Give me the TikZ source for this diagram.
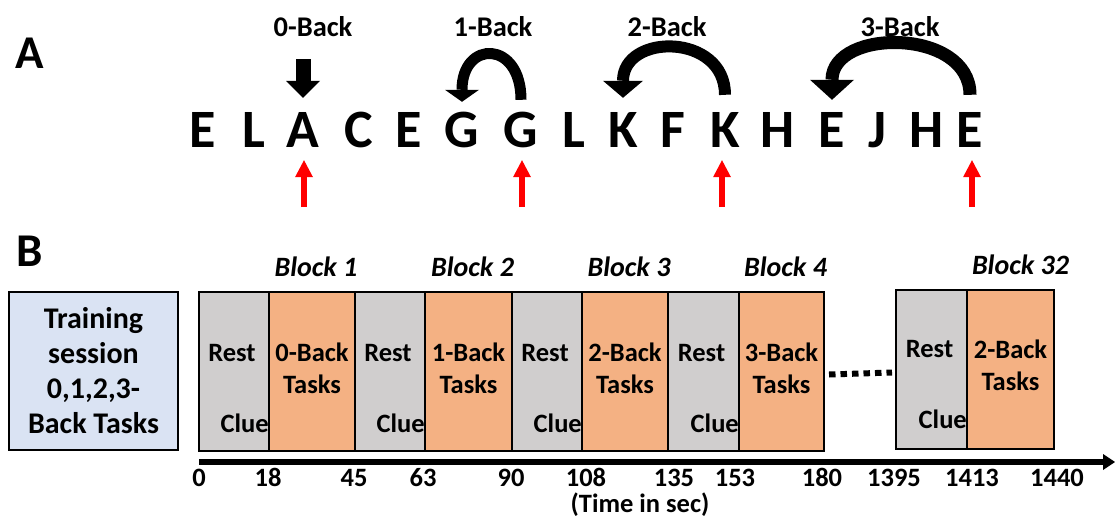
\documentclass[tikz,border=0pt]{standalone}
\usepackage{fontspec}
\setmainfont{Carlito}
\usetikzlibrary{arrows.meta, positioning}
\definecolor{restgray}{HTML}{D0CECE}
\definecolor{taskorange}{HTML}{F4B183}
\definecolor{trainblue}{HTML}{DAE3F3}
\tikzset{
  panel/.style={font=\fontsize{47}{52}\selectfont\bfseries, inner sep=0pt},
  letter/.style={font=\fontsize{54}{60}\selectfont\bfseries, inner sep=0pt,
    text height=34pt, text depth=0pt, anchor=base},
  backlab/.style={font=\fontsize{28.5}{32}\selectfont\bfseries, inner sep=0pt, anchor=base},
  restcell/.style={draw, line width=2pt, fill=restgray, minimum height=159pt,
    anchor=north west, inner sep=0pt},
  taskcell/.style={draw, line width=2pt, fill=taskorange, minimum height=159pt,
    anchor=north west, inner sep=0pt},
  celltxt/.style={font=\fontsize{26.5}{32}\selectfont\bfseries, inner sep=0pt, align=center},
  blocklab/.style={font=\fontsize{28}{32}\selectfont\bfseries\itshape, inner sep=0pt},
  tick/.style={font=\fontsize{26.5}{32}\selectfont\bfseries, inner sep=0pt, anchor=base},
  trainbox/.style={draw, line width=2pt, fill=trainblue, minimum width=169pt,
    minimum height=158pt, align=center, font=\fontsize{30}{35}\selectfont\bfseries},
  downarr/.style={line width=15pt, -{Triangle[width=34pt,length=17pt,line width=0pt]}},
  curvarr/.style={line width=11pt, -{Triangle[width=34pt,length=12pt,line width=0pt]}},
  pointer/.style={red, line width=6pt, -{Triangle[width=18pt,length=17pt,line width=0pt]}},
  axis/.style={line width=6pt, -{Triangle[width=16pt,length=12pt,line width=0pt]}},
  dotline/.style={line width=6pt, dash pattern=on 6.5pt off 5pt}
}

\begin{document}
\begin{tikzpicture}[x=1pt, y=-1pt]
\useasboundingbox (0,0) rectangle (1115,519);

% ---- panel A: letter stream ----
\node[panel] (pa) at (30,53) {A};

\foreach \x/\c [count=\i] in {203/E,254/L,303/A,359/C,409/E,462/G,521/G,574/L,
    623/K,673/F,725/K,778/H,832/E,877/J,927/H,970/E}
  \node[letter] (l\i) at (\x,147) {\c};

\node[backlab] (b0) at (313,37) {0-Back};
\node[backlab] (b1) at (493,37) {1-Back};
\node[backlab] (b2) at (667,37) {2-Back};
\node[backlab] (b3) at (900,37) {3-Back};

\draw[downarr, shorten <=22pt, shorten >=15pt] (l3 |- b0.south) -- (l3.north);
\draw[curvarr, shorten <=13pt, shorten >=11pt]
  (l7.north) .. controls +(0,-73) and +(0,-73) .. (l6.north);
\draw[curvarr, line width=12pt, -{Triangle[width=40pt,length=17pt,line width=0pt]},
  shorten <=18pt, shorten >=15pt]
  (l11.north) .. controls +(0,-80) and +(0,-80) .. (l9.north);
\draw[curvarr, line width=13pt, -{Triangle[width=44pt,length=20pt,line width=0pt]},
  shorten <=18pt, shorten >=13pt]
  (l16.north) .. controls +(0,-85) and +(0,-85) .. (l13.north);

% targets
\foreach \i/\x in {3/304,7/522,11/722,16/972} {
  \coordinate (p\i) at (\x,207);
  \draw[pointer, shorten >=13pt] (p\i) -- (p\i |- l\i.south);
}

% ---- panel B: session timeline ----
\node[panel] (pb) at (30,251) {B};

\node[trainbox] (train) at (93.5,371) {Training\\session\\0,1,2,3-\\Back Tasks};

\foreach \a/\b/\c/\k [count=\i, evaluate=\a as \wr using \b-\a,
    evaluate=\b as \wt using \c-\b] in {198/268/354/0, 354/424/511/1,
    511/581/667/2, 667/738/823/3} {
  \node[restcell, minimum width=\wr pt] (rest\i) at (\a,291) {};
  \node[taskcell, minimum width=\wt pt] (task\i) at (\b,291) {};
  \node[celltxt] (tlab\i) at ([yshift=3pt]task\i.center) {\k-Back\\Tasks};
  \node[celltxt] (rlab\i) at ([xshift=-2pt,yshift=18pt]rest\i.center) {Rest};
  \node[celltxt, anchor=base east] (clue\i) at ([xshift=-1pt,yshift=20pt]rest\i.south east) {Clue};
  \node[blocklab, above=14pt of task\i.north, xshift=4pt] (blk\i) {Block \i};
}

\node[restcell, minimum width=71pt] (rest32) at (895,289) {};
\node[taskcell, minimum width=87pt] (task32) at (966,289) {};
\node[celltxt] (tlab32) at ([yshift=4pt]task32.center) {2-Back\\Tasks};
\node[celltxt] (rlab32) at ([xshift=-2pt,yshift=20pt]rest32.center) {Rest};
\node[celltxt, anchor=base east] (clue32) at ([xshift=-1pt,yshift=22pt]rest32.south east) {Clue};
\node[blocklab, above=14pt of task32.north, xshift=10pt] (blk32) {Block 32};

\draw[dotline] ([xshift=4pt,yshift=-3pt]task4.east) -- ([xshift=-3pt,yshift=-3pt]rest32.west);

% time axis
\coordinate (tstart) at (199,462);
\coordinate (tend) at (1115,462);
\draw[axis] (tstart) -- (tend);

\foreach \x/\t [count=\i] in {199/0,268/18,354/45,423/63,511/90,586/108,674/135,
    735/153,822/180,894/1395,972/1413,1057/1440}
  \node[tick] (tick\i) at (\x,486) {\t};
\node[tick] (tlabel) at (640,512) {(Time in sec)};

\end{tikzpicture}
\end{document}
